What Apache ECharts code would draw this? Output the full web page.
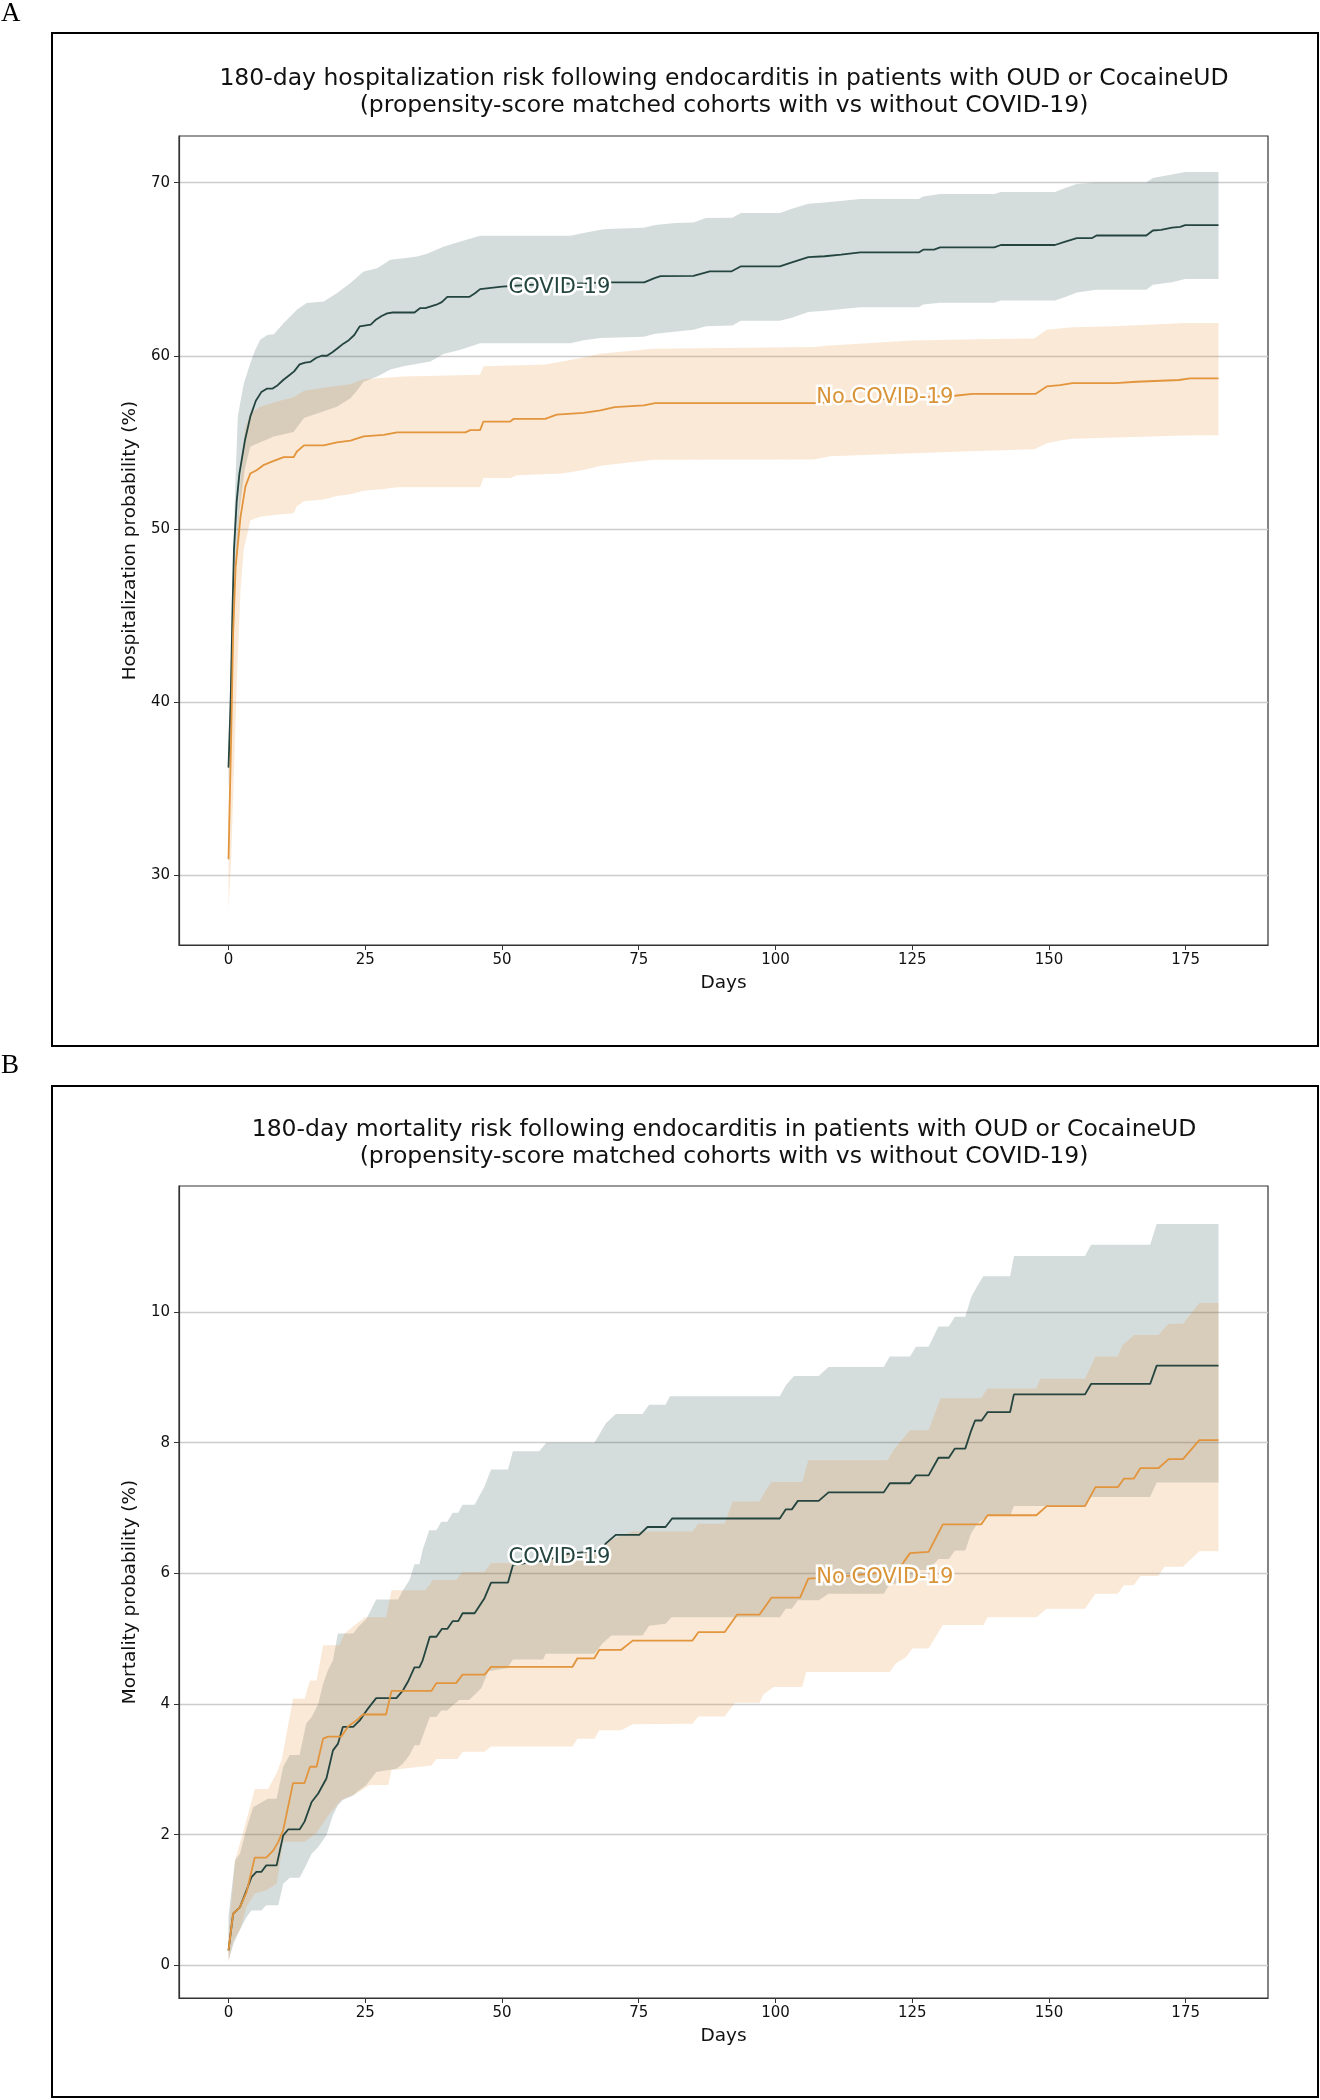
<!DOCTYPE html>
<html lang="en" style="height: 100%">

<head>
    <meta charset="utf-8">
</head>

<body style="margin: 0; background: #ffffff;">
    <div id="container" style="width: 1320px; height: 2100px;"></div>

    <script type="text/javascript" src="https://fastly.jsdelivr.net/npm/echarts@6/dist/echarts.min.js"></script>
    <script type="text/javascript">
        // ---- data: [day, percent] ----
        var xTicks = [0, 25, 50, 75, 100, 125, 150, 175];
        var yTicksA = [30, 40, 50, 60, 70];
        var yTicksB = [0, 2, 4, 6, 8, 10];

        // panel A: hospitalization
        var covidLineA = [[0, 36.2], [0.4, 40.1], [0.7, 44.9], [1, 48.8], [1.5, 51.6], [2, 53.2], [3, 55.1], [4, 56.5], [5, 57.4], [6, 57.9], [7, 58.1], [8, 58.1], [9, 58.3], [10, 58.6], [11, 58.85], [12, 59.1], [13, 59.5], [14, 59.6], [15, 59.65], [16, 59.87], [17, 60.0], [18, 60.0], [19, 60.2], [20, 60.45], [21, 60.7], [22, 60.9], [23, 61.2], [24, 61.7], [26, 61.8], [27, 62.1], [28, 62.3], [29, 62.45], [30, 62.5], [34, 62.5], [35, 62.75], [36, 62.75], [37, 62.85], [38, 62.95], [39, 63.1], [40, 63.4], [44, 63.4], [45, 63.6], [46, 63.85], [50, 64.0], [55, 64.1], [60, 64.15], [66, 64.2], [68, 64.24], [76, 64.24], [78, 64.5], [79, 64.6], [85, 64.62], [88, 64.88], [92, 64.88], [93.7, 65.17], [100.8, 65.17], [103, 65.4], [106, 65.7], [109, 65.75], [112, 65.85], [115.5, 65.97], [126.2, 65.97], [127, 66.13], [129, 66.13], [130.1, 66.26], [140, 66.26], [141.2, 66.4], [151.1, 66.4], [153, 66.6], [155.1, 66.8], [157.9, 66.8], [158.7, 66.95], [167.8, 66.95], [169, 67.24], [170.5, 67.28], [172.5, 67.4], [174, 67.45], [174.9, 67.55], [181, 67.55]];
        var covidUpA = [[0, 37.6], [0.5, 43], [1, 50], [1.3, 53], [1.7, 56.5], [2.8, 58.4], [4, 59.58], [4.9, 60.35], [5.8, 60.92], [7.1, 61.2], [8.3, 61.25], [10.1, 61.89], [12.5, 62.66], [14.3, 63.05], [17.4, 63.14], [19.8, 63.62], [22.3, 64.2], [24.7, 64.87], [27.2, 65.06], [29.6, 65.55], [32, 65.64], [34.5, 65.74], [36.3, 65.9], [39.3, 66.3], [42.4, 66.6], [46, 66.94], [62.5, 66.94], [64.9, 67.1], [68, 67.28], [69.2, 67.32], [75.9, 67.4], [78, 67.55], [81.7, 67.67], [85, 67.7], [87.3, 67.96], [92.1, 67.98], [93.7, 68.25], [100.8, 68.25], [103, 68.5], [106, 68.79], [109, 68.85], [115.5, 69.06], [126.2, 69.06], [127, 69.2], [130.1, 69.35], [140, 69.35], [141.2, 69.46], [151.1, 69.46], [153, 69.7], [155.1, 69.92], [158.7, 70.02], [167.8, 70.02], [169, 70.27], [172, 70.45], [174.9, 70.62], [181, 70.62]];
        var covidLowA = [[0, 35.0], [0.5, 38], [1, 46], [2, 51], [3, 53.5], [4, 54.76], [5.8, 55.0], [8.3, 55.34], [11.9, 55.6], [13.8, 56.4], [17.4, 56.8], [19.8, 57.05], [22.3, 57.55], [23.5, 58.0], [24.7, 58.5], [27.2, 58.8], [29.6, 59.2], [32, 59.4], [36.9, 59.67], [39.3, 60.1], [42.4, 60.35], [46, 60.73], [62.5, 60.73], [64.9, 60.9], [68, 61.02], [75.9, 61.1], [78, 61.27], [85, 61.5], [87.3, 61.7], [92.1, 61.75], [93.7, 62.02], [100.8, 62.02], [103, 62.2], [106, 62.53], [109, 62.6], [115.5, 62.81], [126.2, 62.81], [127, 62.96], [130.1, 63.06], [140, 63.06], [141.2, 63.2], [151.1, 63.2], [153, 63.4], [155.1, 63.66], [158.7, 63.82], [167.8, 63.82], [169, 64.1], [172.5, 64.25], [174.9, 64.43], [181, 64.43]];
        var noCovidLineA = [[0, 30.9], [0.5, 38.2], [0.85, 44.0], [1.3, 47.8], [2.2, 50.7], [3.1, 52.45], [4, 53.2], [5.2, 53.4], [6.5, 53.7], [7.7, 53.85], [10.1, 54.14], [11.9, 54.14], [12.5, 54.47], [13.8, 54.82], [17.4, 54.82], [19.8, 55.0], [22.3, 55.1], [24.7, 55.34], [28.4, 55.43], [30.8, 55.57], [43.3, 55.57], [44.2, 55.7], [46, 55.7], [46.6, 56.2], [51.5, 56.2], [52.1, 56.35], [57.9, 56.35], [60, 56.6], [64.9, 56.7], [68, 56.84], [70.6, 57.03], [75.9, 57.13], [78, 57.26], [107.2, 57.26], [115, 57.4], [125, 57.6], [132.8, 57.69], [136, 57.8], [147.6, 57.8], [149.6, 58.23], [152, 58.3], [154.3, 58.42], [162.2, 58.42], [166, 58.5], [173.8, 58.6], [175.8, 58.69], [181, 58.69]];
        var noCovidUpA = [[0, 33.5], [0.5, 40], [1, 46], [2, 52], [3, 55.8], [4, 56.7], [5.8, 57.05], [8.3, 57.3], [11.9, 57.6], [13.8, 57.98], [17.4, 58.15], [19.8, 58.25], [22.3, 58.35], [24.7, 58.65], [32, 58.8], [46, 58.9], [46.6, 59.4], [58, 59.5], [64.9, 59.9], [68, 60.12], [77.6, 60.4], [107, 60.5], [110, 60.6], [125, 60.88], [137, 60.95], [147.3, 61.0], [149.6, 61.5], [152, 61.58], [154.3, 61.65], [162, 61.7], [174.9, 61.89], [181, 61.9]];
        var noCovidLowA = [[0, 28.0], [0.5, 31], [1, 36], [1.5, 41], [2.2, 46.5], [2.8, 48.8], [4, 50.5], [5.8, 50.7], [8.3, 50.8], [11.9, 50.9], [12.5, 51.3], [13.8, 51.6], [17.4, 51.7], [19.8, 51.9], [22.3, 52.0], [24.7, 52.2], [28.4, 52.3], [30.8, 52.4], [46, 52.4], [46.6, 52.93], [51.5, 52.93], [52.8, 53.1], [61, 53.2], [64.9, 53.4], [68, 53.64], [77.6, 53.99], [107, 54.0], [110, 54.2], [125, 54.37], [137, 54.5], [147.3, 54.6], [149.6, 54.95], [152, 55.1], [154.3, 55.2], [174.9, 55.39], [181, 55.4]];

        // panel B: mortality
        var covidLineB = [[0, 0.23], [0.85, 0.79], [2.1, 0.89], [3.3, 1.15], [4.2, 1.35], [5.1, 1.43], [6, 1.43], [6.9, 1.53], [8.8, 1.53], [10, 1.99], [10.9, 2.08], [13, 2.08], [13.9, 2.2], [15.2, 2.5], [16.4, 2.63], [17.9, 2.86], [19.1, 3.29], [20, 3.39], [20.9, 3.65], [22.8, 3.65], [24, 3.75], [25.5, 3.93], [27, 4.09], [30.7, 4.09], [31.9, 4.21], [32.8, 4.34], [34, 4.56], [34.9, 4.56], [35.5, 4.67], [36.8, 5.03], [38, 5.03], [39, 5.15], [40, 5.15], [41, 5.27], [42, 5.27], [42.8, 5.39], [45, 5.39], [46.8, 5.62], [48, 5.86], [51.1, 5.86], [52, 6.13], [58, 6.2], [62, 6.3], [68, 6.35], [69, 6.46], [70.8, 6.59], [75.1, 6.59], [76.6, 6.71], [79.9, 6.71], [81.1, 6.84], [100.8, 6.84], [101.9, 6.98], [103, 6.98], [104.1, 7.11], [107.9, 7.11], [109.7, 7.24], [119.8, 7.24], [120.9, 7.38], [124.6, 7.38], [125.7, 7.5], [128, 7.5], [129.8, 7.77], [131.7, 7.77], [132.8, 7.91], [134.7, 7.91], [135.8, 8.19], [136.5, 8.34], [137.7, 8.34], [138.8, 8.47], [142.9, 8.47], [143.6, 8.74], [156.6, 8.74], [157.7, 8.9], [168.5, 8.9], [169.7, 9.18], [181, 9.18]];
        var covidUpB = [[0, 0.75], [1.2, 1.61], [2.1, 1.71], [3.3, 2.1], [4.5, 2.42], [7.2, 2.55], [8.8, 2.55], [10, 3.04], [11.2, 3.22], [13, 3.22], [14.2, 3.7], [15.2, 3.8], [16.4, 4.0], [17.3, 4.31], [18.2, 4.52], [19.1, 4.67], [20, 5.08], [22.8, 5.08], [23.7, 5.18], [25.2, 5.3], [27, 5.6], [31, 5.6], [31.9, 5.74], [33.1, 5.9], [34, 6.14], [34.9, 6.14], [35.5, 6.36], [36.7, 6.66], [38, 6.66], [38.9, 6.79], [40, 6.79], [41, 6.93], [42, 6.93], [42.8, 7.05], [45, 7.05], [46.8, 7.33], [48, 7.59], [51.1, 7.59], [52, 7.87], [56.8, 7.87], [58.1, 8.0], [66.9, 8.0], [69, 8.3], [70.8, 8.44], [75.7, 8.44], [76.9, 8.58], [79.9, 8.58], [80.7, 8.71], [100.8, 8.71], [101.9, 8.88], [103.4, 9.02], [107.9, 9.02], [109.7, 9.16], [119.8, 9.16], [120.9, 9.32], [124.6, 9.32], [125.7, 9.47], [128, 9.47], [129.8, 9.78], [131.7, 9.78], [132.8, 9.93], [134.7, 9.93], [135.8, 10.23], [136.9, 10.4], [138, 10.55], [142.9, 10.55], [143.6, 10.86], [156.6, 10.86], [157.7, 11.03], [168.5, 11.03], [169.7, 11.35], [181, 11.35]];
        var covidLowB = [[0, 0.08], [1, 0.35], [2.1, 0.55], [3.3, 0.74], [4.2, 0.84], [6, 0.84], [6.9, 0.92], [9.1, 0.92], [10, 1.25], [11.2, 1.34], [13, 1.34], [14, 1.5], [15.2, 1.71], [16.4, 1.81], [17.9, 1.99], [19.1, 2.3], [20, 2.45], [20.9, 2.53], [22.8, 2.6], [23.4, 2.65], [25.2, 2.76], [27, 2.96], [30.7, 3.01], [31.9, 3.09], [33.1, 3.22], [34, 3.37], [34.9, 3.37], [36.8, 3.8], [38, 3.8], [38.9, 3.9], [40, 3.9], [41, 3.98], [42.2, 4.06], [44, 4.06], [46.2, 4.24], [47.5, 4.5], [51, 4.55], [52, 4.68], [57.5, 4.68], [58, 4.77], [66.9, 4.77], [68.4, 4.93], [70, 5.05], [75.7, 5.05], [76.9, 5.2], [79.9, 5.23], [81, 5.33], [100.8, 5.33], [101.9, 5.46], [103, 5.46], [104.1, 5.59], [107.9, 5.59], [109.7, 5.69], [119.8, 5.69], [120.9, 5.84], [124.6, 5.84], [125.7, 6.05], [128, 6.05], [129.8, 6.22], [131.7, 6.22], [132.8, 6.35], [134.7, 6.35], [135.8, 6.62], [136.9, 6.76], [138.8, 6.88], [142.9, 6.88], [143.6, 7.03], [156.6, 7.03], [157.7, 7.17], [168.5, 7.17], [169.7, 7.39], [181, 7.39]];
        var noCovidLineB = [[0, 0.23], [0.85, 0.79], [2.1, 0.89], [3.3, 1.12], [4.8, 1.65], [6.9, 1.65], [8.2, 1.76], [9.1, 1.89], [10, 2.07], [11.8, 2.79], [13.9, 2.79], [14.9, 3.04], [16.1, 3.04], [17.3, 3.47], [18.2, 3.5], [20.6, 3.5], [21.9, 3.66], [23.4, 3.75], [24.6, 3.84], [28.8, 3.84], [29.8, 4.2], [37.1, 4.2], [38, 4.32], [41.6, 4.32], [42.8, 4.45], [46.8, 4.45], [48, 4.57], [62.9, 4.57], [63.8, 4.7], [66.9, 4.7], [67.8, 4.83], [71.8, 4.83], [73.9, 4.97], [84.8, 4.97], [85.9, 5.1], [90.7, 5.1], [93, 5.37], [97.1, 5.37], [98.2, 5.5], [99.3, 5.63], [104.5, 5.63], [106, 5.92], [112, 5.95], [118, 6.0], [122.5, 6.05], [123.5, 6.18], [124.6, 6.31], [128, 6.33], [130.6, 6.75], [137.6, 6.75], [138.8, 6.89], [147.7, 6.89], [149.6, 7.03], [156.6, 7.03], [158.5, 7.32], [162.6, 7.32], [163.7, 7.45], [165.5, 7.45], [166.7, 7.61], [170, 7.61], [171.9, 7.75], [174.5, 7.75], [177.5, 8.04], [181, 8.04]];
        var noCovidUpB = [[0, 0.5], [1.2, 1.6], [3.6, 2.32], [4.8, 2.7], [7.2, 2.7], [8.8, 2.94], [9.7, 3.14], [11.8, 4.08], [13.9, 4.08], [14.9, 4.36], [16.1, 4.36], [17.3, 4.9], [20.3, 4.9], [21.2, 5.08], [23.4, 5.23], [25, 5.33], [28.8, 5.33], [29.8, 5.74], [36, 5.74], [37.4, 5.9], [41.6, 5.9], [42.8, 6.02], [46.8, 6.02], [48, 6.16], [58.7, 6.16], [59.5, 6.3], [68.5, 6.3], [69, 6.48], [71, 6.55], [73.9, 6.64], [84.8, 6.64], [85.9, 6.76], [90.7, 6.76], [92.2, 7.1], [97.1, 7.1], [98.2, 7.27], [99.3, 7.4], [104.9, 7.4], [106, 7.73], [120.5, 7.73], [121.6, 7.89], [123.1, 8.04], [124.6, 8.19], [128, 8.19], [130.2, 8.68], [137.6, 8.68], [138.8, 8.83], [147.7, 8.83], [148.4, 8.98], [156.6, 8.98], [158.5, 9.32], [162.6, 9.32], [163.4, 9.49], [165.6, 9.65], [170, 9.65], [171.9, 9.82], [174.5, 9.82], [177.5, 10.14], [181, 10.14]];
        var noCovidLowB = [[0, 0.05], [0.85, 0.38], [2.1, 0.54], [3.3, 0.9], [4.8, 1.1], [6.9, 1.15], [8.8, 1.25], [10, 1.89], [13.9, 1.89], [16, 2.02], [18.5, 2.32], [20.6, 2.53], [23.4, 2.63], [25.8, 2.76], [29.2, 2.76], [29.8, 2.99], [37.1, 3.06], [38, 3.16], [41.9, 3.16], [42.8, 3.27], [46.8, 3.27], [48, 3.35], [62.9, 3.35], [63.8, 3.47], [66.9, 3.47], [67.8, 3.6], [71.8, 3.6], [73.9, 3.69], [84.8, 3.7], [85.9, 3.81], [90.7, 3.81], [92.6, 4.02], [97.1, 4.02], [97.8, 4.15], [99.7, 4.26], [104.9, 4.26], [105.6, 4.49], [120.9, 4.49], [122, 4.62], [123.9, 4.72], [125, 4.85], [128, 4.85], [130.6, 5.21], [138, 5.21], [138.8, 5.33], [147.7, 5.33], [149.6, 5.46], [156.6, 5.46], [158.5, 5.69], [162.6, 5.69], [163.7, 5.82], [165.5, 5.82], [166.7, 5.96], [170, 5.96], [171.1, 6.1], [174.5, 6.1], [177.5, 6.34], [181, 6.34]];

        // inline line labels: [text, day, percent]
        var labelsA = [['COVID-19', 60.5, 63.95], ['No COVID-19', 120, 57.6]];
        var labelsB = [['COVID-19', 60.5, 6.24], ['No COVID-19', 120, 5.93]];

        var titleA = '180-day hospitalization risk following endocarditis in patients with OUD or CocaineUD\n(propensity-score matched cohorts with vs without COVID-19)';
        var titleB = '180-day mortality risk following endocarditis in patients with OUD or CocaineUD\n(propensity-score matched cohorts with vs without COVID-19)';

        var FONT = 'DejaVu Sans';
        var covidColor = '#24453f';
        var noCovidColor = '#e2953c';
        var noCovidText = '#d99438';

        var dom = document.getElementById('container');
        var myChart = echarts.init(dom, null, { renderer: 'canvas' });

        // filled band between upper and lower curve (polygon in data coords)
        function band(gi, upper, lower, fill) {
            return {
                type: 'custom',
                xAxisIndex: gi,
                yAxisIndex: gi,
                silent: true,
                z: 1,
                data: [[upper[0][0], upper[0][1]]],
                renderItem: function (params, api) {
                    var pts = upper.map(function (p) { return api.coord(p); });
                    var back = lower.slice().reverse().map(function (p) { return api.coord(p); });
                    return {
                        type: 'polygon',
                        shape: { points: pts.concat(back) },
                        style: { fill: fill }
                    };
                }
            };
        }

        function line(gi, data, color) {
            return {
                type: 'line',
                xAxisIndex: gi,
                yAxisIndex: gi,
                data: data,
                showSymbol: false,
                symbol: 'none',
                silent: true,
                z: 3,
                lineStyle: { color: color, width: 1.8 }
            };
        }

        // inline labels: white halo text first, coloured text drawn over it
        function labels(gi, list, colors) {
            return {
                type: 'custom',
                xAxisIndex: gi,
                yAxisIndex: gi,
                silent: true,
                z: 5,
                data: list.map(function (l) { return [l[1], l[2]]; }),
                renderItem: function (params, api) {
                    var l = list[params.dataIndex];
                    var p = api.coord([l[1], l[2]]);
                    var base = {
                        text: l[0],
                        font: '21px "DejaVu Sans"',
                        align: 'center',
                        verticalAlign: 'middle',
                        textAlign: 'center',
                        textVerticalAlign: 'middle'
                    };
                    return {
                        type: 'group',
                        children: [
                            { type: 'text', x: p[0], y: p[1], z2: 1, style: Object.assign({ fill: '#ffffff', stroke: '#ffffff', lineWidth: 5 }, base) },
                            { type: 'text', x: p[0], y: p[1], z2: 2, style: Object.assign({ fill: colors[params.dataIndex] }, base) }
                        ]
                    };
                }
            };
        }

        function xAxis(gi) {
            return {
                type: 'value',
                gridIndex: gi,
                min: -9.05,
                max: 190.05,
                name: 'Days',
                nameLocation: 'middle',
                nameGap: 28.5,
                nameTextStyle: { fontFamily: FONT, fontSize: 18.5, color: '#111' },
                axisLine: { show: true, onZero: false, lineStyle: { color: '#333', width: 1.2 } },
                axisTick: { show: true, length: 5, customValues: xTicks, lineStyle: { color: '#333' } },
                axisLabel: { customValues: xTicks, fontFamily: FONT, fontSize: 15, color: '#111', margin: 8 },
                splitLine: { show: false }
            };
        }

        function yAxis(gi, min, max, ticks, name) {
            return {
                type: 'value',
                gridIndex: gi,
                min: min,
                max: max,
                name: name,
                nameLocation: 'middle',
                nameGap: 33,
                nameTextStyle: { fontFamily: FONT, fontSize: 18.5, color: '#111' },
                axisLine: { show: true, onZero: false, lineStyle: { color: '#333', width: 1.2 } },
                axisTick: { show: true, length: 5, customValues: ticks, lineStyle: { color: '#333' } },
                axisLabel: { customValues: ticks, fontFamily: FONT, fontSize: 15, color: '#111', margin: 9 },
                splitLine: { show: true, lineStyle: { color: '#cccccc', width: 1.3 } }
            };
        }

        var titleStyle = { fontFamily: FONT, fontSize: 23.5, fontWeight: 'normal', color: '#111', lineHeight: 27 };

        var option = {
            backgroundColor: '#ffffff',
            animation: false,
            title: [
                { text: titleA, left: 719, top: 60, textAlign: 'center', textStyle: titleStyle },
                { text: titleB, left: 719, top: 1111, textAlign: 'center', textStyle: titleStyle }
            ],
            grid: [
                { left: 179, top: 136, width: 1089, height: 809, show: true, borderColor: '#333', borderWidth: 1.2 },
                { left: 179, top: 1186, width: 1089, height: 812, show: true, borderColor: '#333', borderWidth: 1.2 }
            ],
            xAxis: [xAxis(0), xAxis(1)],
            yAxis: [
                yAxis(0, 25.95, 72.7, yTicksA, 'Hospitalization probability (%)'),
                yAxis(1, -0.5, 11.93, yTicksB, 'Mortality probability (%)')
            ],
            // outer panel frames and panel letters
            graphic: [
                { type: 'rect', shape: { x: 52, y: 33, width: 1266, height: 1013 }, style: { fill: 'none', stroke: '#000', lineWidth: 2 } },
                { type: 'rect', shape: { x: 52, y: 1086, width: 1266, height: 1011 }, style: { fill: 'none', stroke: '#000', lineWidth: 2 } },
                { type: 'text', x: 1, y: 0, style: { text: 'A', font: '27px "Liberation Serif"', fill: '#000' } },
                { type: 'text', x: 1, y: 1052, style: { text: 'B', font: '27px "Liberation Serif"', fill: '#000' } }
            ],
            series: [
                band(0, covidUpA, covidLowA, 'rgba(47, 79, 79, 0.2)'),
                band(0, noCovidUpA, noCovidLowA, 'rgba(230, 145, 56, 0.2)'),
                line(0, covidLineA, covidColor),
                line(0, noCovidLineA, noCovidColor),
                labels(0, labelsA, [covidColor, noCovidText]),
                band(1, covidUpB, covidLowB, 'rgba(47, 79, 79, 0.2)'),
                band(1, noCovidUpB, noCovidLowB, 'rgba(230, 145, 56, 0.2)'),
                line(1, covidLineB, covidColor),
                line(1, noCovidLineB, noCovidColor),
                labels(1, labelsB, [covidColor, noCovidText])
            ]
        };

        myChart.setOption(option);
        window.addEventListener('resize', myChart.resize);
    </script>
</body>

</html>
